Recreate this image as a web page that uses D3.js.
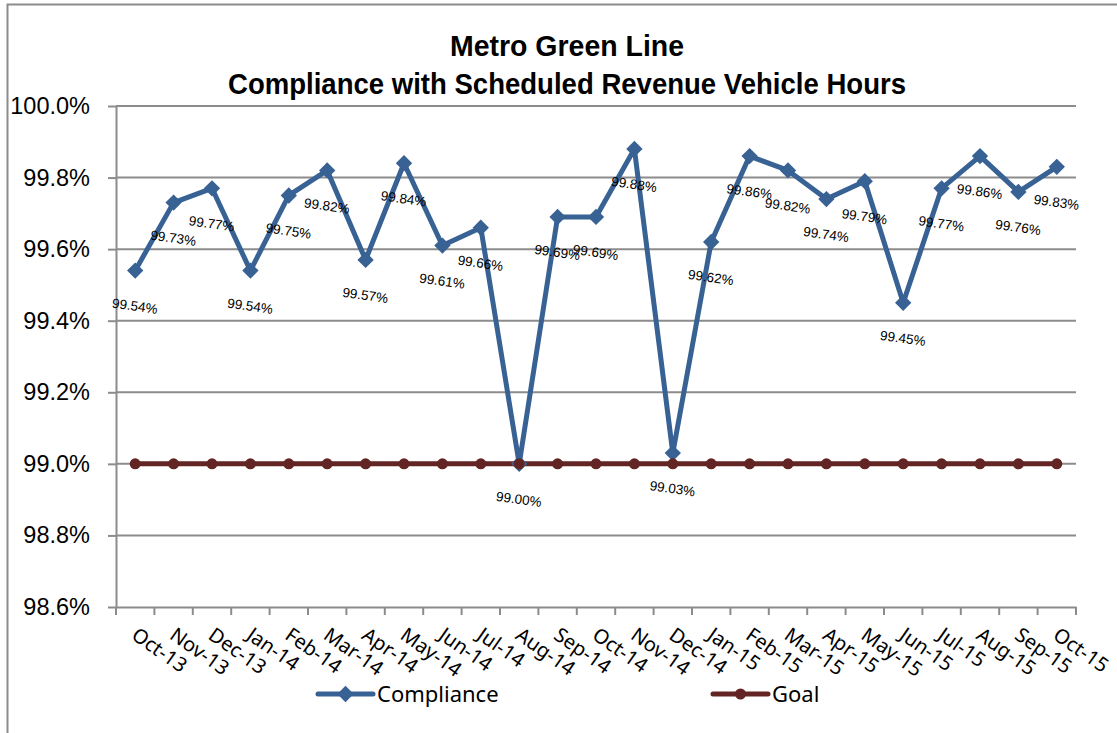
<!DOCTYPE html>
<html>
<head>
<meta charset="utf-8">
<script src="https://cdn.jsdelivr.net/npm/d3@7"></script>
<style>
  body { margin: 0; background: #fff; }
</style>
</head>
<body>
<svg width="1117" height="733"></svg>
<script>
// Data
const months = ["Oct-13", "Nov-13", "Dec-13", "Jan-14", "Feb-14", "Mar-14", "Apr-14", "May-14",
                "Jun-14", "Jul-14", "Aug-14", "Sep-14", "Oct-14", "Nov-14", "Dec-14", "Jan-15",
                "Feb-15", "Mar-15", "Apr-15", "May-15", "Jun-15", "Jul-15", "Aug-15", "Sep-15", "Oct-15"];
const compliance = [99.54, 99.73, 99.77, 99.54, 99.75, 99.82, 99.57, 99.84, 99.61, 99.66, 99.00, 99.69,
                    99.69, 99.88, 99.03, 99.62, 99.86, 99.82, 99.74, 99.79, 99.45, 99.77, 99.86, 99.76, 99.83];
const goal = months.map(() => 99.0);
const yTicks = [98.6, 98.8, 99.0, 99.2, 99.4, 99.6, 99.8, 100.0];
const titleLines = ["Metro Green Line", "Compliance with Scheduled Revenue Vehicle Hours"];
const titleWidths = [234, 678];

const blue = "#386194";
const brown = "#632523";
const gridColor = "#8c8c8c";

const svg = d3.select("svg");
const margin = { top: 106, left: 116, right: 41, bottom: 126 };
const width = +svg.attr("width");
const height = +svg.attr("height");

// Outer frame
svg.append("rect")
   .attr("x", 7.5).attr("y", 4.5)
   .attr("width", 1130).attr("height", 750)
   .attr("fill", "none")
   .attr("stroke", "#8c8c8c")
   .attr("stroke-width", 2);

// Scales
const xScale = d3.scaleBand()
                 .domain(months)
                 .range([margin.left, width - margin.right]);
const yScale = d3.scaleLinear()
                 .domain([98.6, 100.0])
                 .range([height - margin.bottom, margin.top]);
const xc = d => xScale(d) + xScale.bandwidth() / 2;

// Title (narrow bold look)
svg.append("g")
   .selectAll("text")
   .data(titleLines)
   .join("text")
   .attr("x", 567)
   .attr("y", (d, i) => 56 + i * 38)
   .attr("text-anchor", "middle")
   .attr("textLength", (d, i) => titleWidths[i])
   .attr("lengthAdjust", "spacingAndGlyphs")
   .style("font-family", "'Liberation Sans', Arial")
   .style("font-weight", "bold")
   .style("font-size", "29px")
   .style("fill", "#000")
   .text(d => d);

// Gridlines
svg.append("g")
   .selectAll("line")
   .data(yTicks.slice(1))
   .join("line")
   .attr("x1", margin.left)
   .attr("x2", width - margin.right)
   .attr("y1", d => yScale(d))
   .attr("y2", d => yScale(d))
   .attr("stroke", gridColor)
   .attr("stroke-width", 2);

// Y axis
const yAxis = svg.append("g")
   .attr("class", "y-axis")
   .attr("transform", `translate(${margin.left},0)`)
   .call(d3.axisLeft(yScale).tickValues(yTicks).tickFormat(d => d.toFixed(1) + "%").tickSize(8).tickSizeOuter(0).tickPadding(18));
yAxis.selectAll("text")
     .style("font-family", "'Liberation Sans', Arial")
     .style("font-size", "23.5px")
     .style("fill", "#000");
yAxis.selectAll("path, line").attr("stroke", gridColor).attr("stroke-width", 2);

// X axis
const xAxis = svg.append("g")
   .attr("class", "x-axis")
   .attr("transform", `translate(0,${height - margin.bottom})`)
   .call(d3.axisBottom(xScale).tickSize(0).tickSizeOuter(0));
xAxis.select("path").attr("stroke", gridColor).attr("stroke-width", 2);
xAxis.selectAll("text")
     .attr("x", 0).attr("y", 0).attr("dy", 0)
     .attr("text-anchor", "start")
     .attr("transform", "translate(-5,31) rotate(35)")
     .style("font-family", "'Noto Sans', 'Open Sans', sans-serif")
     .style("font-size", "20px")
     .style("fill", "#000");

// Tick marks between categories
const boundaries = months.map(m => xScale(m)).concat([width - margin.right]);
svg.append("g")
   .selectAll("line")
   .data(boundaries)
   .join("line")
   .attr("x1", d => d).attr("x2", d => d)
   .attr("y1", height - margin.bottom)
   .attr("y2", height - margin.bottom + 8)
   .attr("stroke", gridColor)
   .attr("stroke-width", 2);

// Goal line
const goalLine = d3.line().x((d, i) => xc(months[i])).y(d => yScale(d));
svg.append("path")
   .datum(goal)
   .attr("d", goalLine)
   .attr("fill", "none")
   .attr("stroke", brown)
   .attr("stroke-width", 5);

// Compliance line
const compLine = d3.line().x((d, i) => xc(months[i])).y(d => yScale(d));
svg.append("path")
   .datum(compliance)
   .attr("d", compLine)
   .attr("fill", "none")
   .attr("stroke", blue)
   .attr("stroke-width", 5)
   .attr("stroke-linejoin", "round");

// Compliance markers
svg.append("g")
   .selectAll("path")
   .data(compliance)
   .join("path")
   .attr("transform", (d, i) => `translate(${xc(months[i])},${yScale(d)})`)
   .attr("d", d3.symbol(d3.symbolDiamond2, 170))
   .attr("fill", blue);

// Goal markers
svg.append("g")
   .selectAll("circle")
   .data(goal)
   .join("circle")
   .attr("cx", (d, i) => xc(months[i]))
   .attr("cy", d => yScale(d))
   .attr("r", 5.5)
   .attr("fill", brown);

// Data labels
svg.append("g")
   .selectAll("text")
   .data(compliance)
   .join("text")
   .attr("transform", (d, i) => `translate(${xc(months[i]) - 1},${yScale(d) + 40}) rotate(8)`)
   .attr("text-anchor", "middle")
   .style("font-family", "'Liberation Sans', Arial")
   .style("font-size", "13.5px")
   .style("fill", "#000")
   .text(d => d.toFixed(2) + "%");

// Legend
const legendItems = [
  { name: "Compliance", color: blue, x: 318, marker: "diamond" },
  { name: "Goal", color: brown, x: 713, marker: "circle" }
];
const legend = svg.append("g").attr("transform", "translate(0,694)");
legendItems.forEach(item => {
  const lg = legend.append("g").attr("transform", `translate(${item.x},0)`);
  lg.append("line")
    .attr("x1", 0).attr("x2", 55)
    .attr("stroke", item.color)
    .attr("stroke-width", 5)
    .attr("stroke-linecap", "round");
  if (item.marker === "diamond") {
    lg.append("path")
      .attr("transform", "translate(27.5,0)")
      .attr("d", d3.symbol(d3.symbolDiamond2, 170))
      .attr("fill", item.color);
  } else {
    lg.append("circle").attr("cx", 27.5).attr("r", 5.5).attr("fill", item.color);
  }
  lg.append("text")
    .attr("x", 59)
    .attr("y", 8)
    .style("font-family", "'Noto Sans', 'Open Sans', sans-serif")
    .style("font-size", "22px")
    .style("fill", "#000")
    .text(item.name);
});
</script>
</body>
</html>
